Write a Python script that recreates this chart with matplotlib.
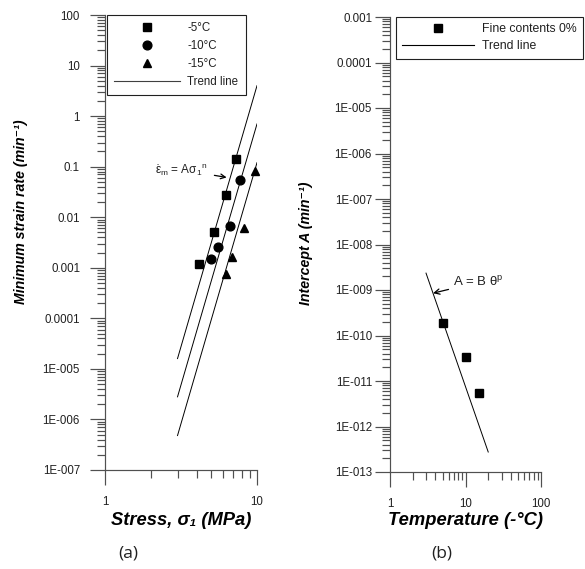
import numpy as np
import matplotlib
matplotlib.use('Agg')
import matplotlib.pyplot as plt
from matplotlib.lines import Line2D
from matplotlib.ticker import FixedLocator, NullFormatter

plt.rcParams['font.family'] = ['Liberation Sans', 'DejaVu Sans']
plt.rcParams['mathtext.fontset'] = 'custom'
plt.rcParams['mathtext.rm'] = 'Liberation Sans'
plt.rcParams['mathtext.it'] = 'Liberation Sans:italic'
plt.rcParams['mathtext.bf'] = 'Liberation Sans:bold'

# ---- data, panel (a): minimum strain rate vs stress
stress_m5 = [4.15, 5.21, 6.25, 7.27]
rate_m5 = [0.0012, 0.0051, 0.0277, 0.142]
stress_m10 = [4.98, 5.54, 6.64, 7.73]
rate_m10 = [0.0015, 0.0026, 0.0068, 0.055]
stress_m15 = [6.25, 6.85, 8.21, 9.7]
rate_m15 = [0.00076, 0.0016, 0.0062, 0.083]

stress_fit = [3.0, 10.0]
fit_m5 = [1.6e-5, 4.0]
fit_m10 = [2.8e-6, 0.70]
fit_m15 = [4.8e-7, 0.12]

# ---- data, panel (b): intercept A vs temperature
temp = [5, 10, 15]
intercept = [1.88e-10, 3.4e-11, 5.5e-12]
temp_fit = [3.0, 20.0]
intercept_fit = [2.35e-9, 2.75e-13]

ya_ticks = [1e-7, 1e-6, 1e-5, 1e-4, 1e-3, 1e-2, 1e-1, 1, 10, 100]
ya_labels = ['1E-007', '1E-006', '1E-005', '0.0001', '0.001', '0.01', '0.1', '1', '10', '100']
yb_ticks = [10.0 ** k for k in range(-13, -2)]
yb_labels = ['1E-013', '1E-012', '1E-011', '1E-010', '1E-009', '1E-008', '1E-007',
             '1E-006', '1E-005', '0.0001', '0.001']

axcol = '#505050'
txtcol = '#202020'
px = 72 / 100.0  # points per pixel

fig = plt.figure(figsize=(5.85, 5.69), dpi=100)
ax1 = fig.add_axes([105 / 585, 99 / 569, 152 / 585, 455 / 569])
ax2 = fig.add_axes([390 / 585, 97 / 569, 151 / 585, 455 / 569])


def style_axis(ax, xlo, xhi, ylo, yhi, yticks, ylabels, ypad):
    ax.set_xscale('log')
    ax.set_yscale('log')
    ax.set_xlim(xlo, xhi)
    ax.set_ylim(ylo, yhi)
    for s in ['top', 'right']:
        ax.spines[s].set_visible(False)
    for s in ['left', 'bottom']:
        ax.spines[s].set_color(axcol)
        ax.spines[s].set_linewidth(1.0 * px * 1.2)
    ax.yaxis.set_major_locator(FixedLocator(yticks))
    ax.set_yticklabels(ylabels)
    ymin = [m * 10.0 ** k for k in range(int(np.log10(ylo)), int(np.log10(yhi))) for m in range(2, 10)]
    ax.yaxis.set_minor_locator(FixedLocator(ymin))
    ax.yaxis.set_minor_formatter(NullFormatter())
    xmaj = [10.0 ** k for k in range(int(np.log10(xlo)), int(np.log10(xhi)) + 1)]
    ax.xaxis.set_major_locator(FixedLocator(xmaj))
    ax.set_xticklabels([('%g' % v) for v in xmaj])
    xmin = [m * 10.0 ** k for k in range(int(np.log10(xlo)), int(np.log10(xhi))) for m in range(2, 10)]
    ax.xaxis.set_minor_locator(FixedLocator(xmin))
    ax.xaxis.set_minor_formatter(NullFormatter())
    ax.tick_params(which='major', direction='out', length=15 * px, width=1.0 * px * 1.2,
                   color=axcol, labelsize=8.3, labelcolor=txtcol)
    ax.tick_params(which='minor', direction='out', length=8 * px, width=1.0 * px * 1.2, color=axcol)
    ax.tick_params(axis='y', which='major', pad=ypad)
    ax.tick_params(axis='x', which='major', pad=11 * px)
    ax.patch.set_visible(False)


style_axis(ax1, 1, 10, 1e-7, 100, ya_ticks, ya_labels, 10 * px)
style_axis(ax2, 1, 100, 1e-13, 1e-3, yb_ticks, yb_labels, 3 * px)

# ---- panel (a)
lw = 0.7
ax1.plot(stress_fit, fit_m5, color='black', lw=lw)
ax1.plot(stress_fit, fit_m10, color='black', lw=lw)
ax1.plot(stress_fit, fit_m15, color='black', lw=lw)
ax1.plot(stress_m5, rate_m5, 's', color='black', ms=6, clip_on=False)
ax1.plot(stress_m10, rate_m10, 'o', color='black', ms=6.3, clip_on=False)
ax1.plot(stress_m15, rate_m15, '^', color='black', ms=6, clip_on=False)

handles_a = [
    Line2D([], [], ls='none', marker='s', color='black', ms=6),
    Line2D([], [], ls='none', marker='o', color='black', ms=6.3),
    Line2D([], [], ls='none', marker='^', color='black', ms=6),
    Line2D([], [], color='#404040', lw=0.8),
]
leg = ax1.legend(handles_a, ['-5\u00b0C', '-10\u00b0C', '-15\u00b0C', 'Trend line'],
                 loc='upper left', bbox_to_anchor=(0.013, 1.0), borderaxespad=0,
                 fontsize=8.3, handlelength=5.7, handletextpad=0.6, labelspacing=0.5,
                 borderpad=0.65, fancybox=False, framealpha=1, edgecolor='#202020')
leg.get_frame().set_linewidth(0.8)
for t in leg.get_texts():
    t.set_color(txtcol)

ax1.annotate(r'$\dot{\mathrm{\varepsilon}}_\mathrm{m}$ = A$\mathrm{\sigma}_\mathrm{1}{}^\mathrm{n}$',
             xy=(0.80, 0.643), xycoords='axes fraction',
             xytext=(0.33, 0.66), textcoords='axes fraction',
             ha='left', va='center', fontsize=8.5, color=txtcol,
             arrowprops=dict(arrowstyle='->', color='black', lw=0.9, shrinkA=3, shrinkB=0))

ax1.set_xlabel('Stress, \u03c3\u2081 (MPa)', fontsize=13.2, fontweight='bold', fontstyle='italic')
ax1.xaxis.set_label_coords(0.5, -0.093)
ax1.set_ylabel('Minimum strain rate (min\u207b\u00b9)', fontsize=10.2, fontweight='bold',
               fontstyle='italic')
ax1.yaxis.set_label_coords(-0.508, 0.567)

# ---- panel (b)
ax2.plot(temp_fit, intercept_fit, color='black', lw=lw)
ax2.plot(temp, intercept, 's', color='black', ms=6, clip_on=False)
handles_b = [
    Line2D([], [], ls='none', marker='s', color='black', ms=6),
    Line2D([], [], color='black', lw=0.8),
]
legb = ax2.legend(handles_b, ['Fine contents 0%', 'Trend line'],
                  loc='upper left', bbox_to_anchor=(0.04, 1.0), borderaxespad=0,
                  fontsize=8.8, handlelength=5.9, handletextpad=0.65, labelspacing=0.44,
                  borderpad=0.5, fancybox=False, framealpha=1, edgecolor='#202020')
legb.get_frame().set_linewidth(0.8)
for t in legb.get_texts():
    t.set_color(txtcol)

ax2.annotate(r'A = B $\mathrm{\theta}^\mathrm{p}$',
             xy=(0.285, 0.393), xycoords='axes fraction',
             xytext=(0.415, 0.417), textcoords='axes fraction',
             ha='left', va='center', fontsize=9.5, color=txtcol,
             arrowprops=dict(arrowstyle='->', color='black', lw=0.9, shrinkA=1, shrinkB=0))

ax2.set_xlabel('Temperature (-\u00b0C)', fontsize=13.2, fontweight='bold', fontstyle='italic')
ax2.xaxis.set_label_coords(0.5, -0.089)
ax2.set_ylabel('Intercept A (min\u207b\u00b9)', fontsize=10.2, fontweight='bold',
               fontstyle='italic')
ax2.yaxis.set_label_coords(-0.51, 0.503)

fig.text(128 / 585, 1 - 553 / 569, '(a)', ha='center', va='center', fontsize=12.5,
         family=['Open Sans', 'DejaVu Sans'], color=txtcol)
fig.text(442 / 585, 1 - 553 / 569, '(b)', ha='center', va='center', fontsize=12.5,
         family=['Open Sans', 'DejaVu Sans'], color=txtcol)

fig.savefig('out.png', dpi=100)
